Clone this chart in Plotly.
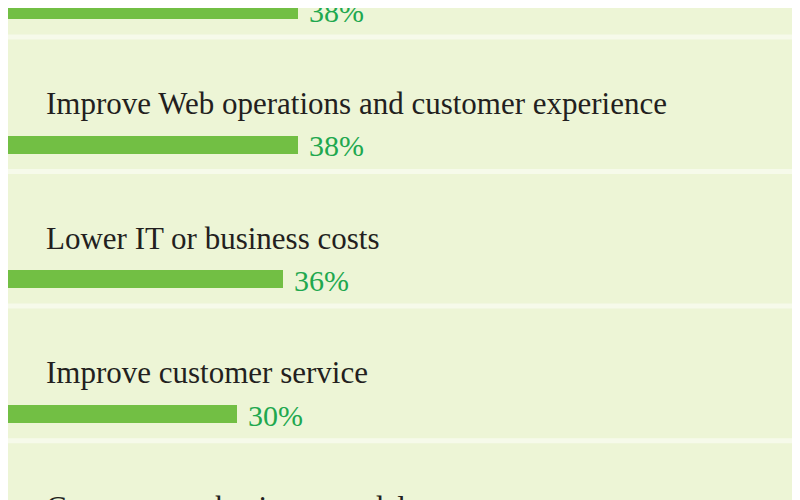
import plotly.graph_objects as go

# data
labels = ["", "Improve Web operations and customer experience", "Lower IT or business costs",
          "Improve customer service", "Create a new business model or revenue stream"]
values = [38, 38, 36, 30, None]
pct_text = ["38%", "38%", "36%", "30%", ""]

rows = list(range(len(labels)))
bar_vals = [v if v is not None else 0 for v in values]

fig = go.Figure()
fig.add_trace(go.Bar(x=bar_vals, y=rows, orientation="h", width=0.135,
                     marker=dict(color="#72bf44", line=dict(width=0)),
                     hoverinfo="skip"))

for i in rows:
    if labels[i]:
        fig.add_annotation(x=0, y=i - 0.305, text=labels[i], showarrow=False,
                           xanchor="left", yanchor="middle", xshift=36,
                           font=dict(family="Liberation Sans Narrow", size=31, color="#231f20"))
    if pct_text[i]:
        fig.add_annotation(x=bar_vals[i], y=i + 0.01, text=pct_text[i], showarrow=False,
                           xanchor="left", yanchor="middle", xshift=9,
                           font=dict(family="Liberation Sans Narrow", size=30, color="#1fa84f"))
    # faint band separators
    fig.add_shape(type="line", xref="paper", x0=0, x1=0.99, y0=i + 0.2, y1=i + 0.2,
                  line=dict(color="#f6faea", width=5), layer="below")

# right edge line
fig.add_shape(type="line", xref="paper", yref="paper", x0=0.996, x1=0.996, y0=0, y1=1,
              line=dict(color="#9fd28a", width=3))

fig.update_layout(
    width=800, height=500,
    margin=dict(l=0, r=0, t=0, b=0),
    paper_bgcolor="#edf5d6",
    plot_bgcolor="#edf5d6",
    showlegend=False,
    bargap=0,
)
fig.update_xaxes(range=[0, 104.8], visible=False, fixedrange=True)
fig.update_yaxes(range=[3.70, -0.015], visible=False, fixedrange=True)

fig.write_html("out.html")
